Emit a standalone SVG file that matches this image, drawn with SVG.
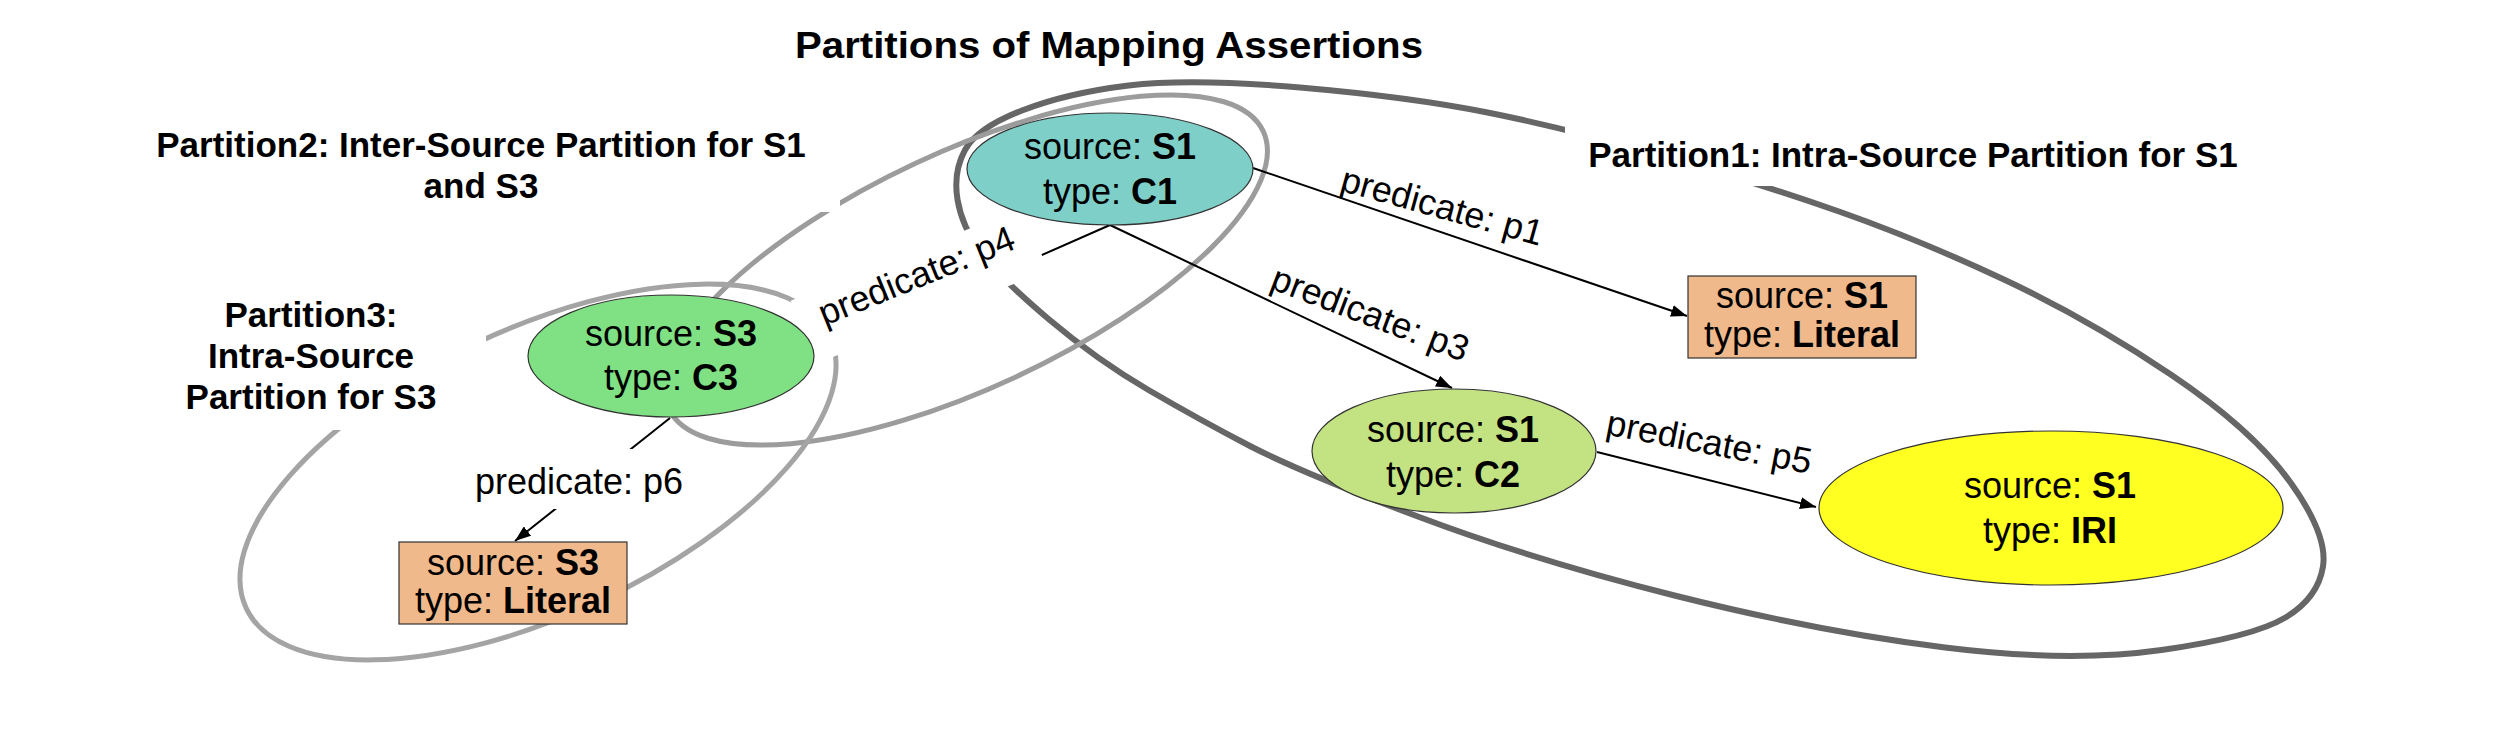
<svg xmlns="http://www.w3.org/2000/svg" width="2500" height="734" viewBox="0 0 2500 734">
<defs>
<style>
text{font-family:"Liberation Sans",Arial,sans-serif;fill:#000}
.nt{font-size:36px;text-anchor:middle}
.b{font-weight:bold}
.lab{font-size:35px;font-weight:bold;text-anchor:middle}
.el{font-size:36px;text-anchor:middle}
.part{fill:none}
.p1{stroke:#666;stroke-width:6}
.p2{stroke:#9c9c9c;stroke-width:5}
.p3{stroke:#a4a4a4;stroke-width:5}
.edge{stroke:#000;stroke-width:2;fill:none}
.bg{fill:#fff;stroke:none}
.node{stroke:#333;stroke-width:1.2}
</style>
<marker id="arr" viewBox="0 0 16 12" refX="16" refY="6" markerWidth="16" markerHeight="12" markerUnits="userSpaceOnUse" orient="auto">
<path d="M0,0 L16,6 L0,12 z" fill="#000"/>
</marker>
</defs>
<rect width="2500" height="734" fill="#fff"/>

<text x="1109" y="58" class="b" font-size="37" text-anchor="middle" textLength="628" lengthAdjust="spacingAndGlyphs">Partitions of Mapping Assertions</text>

<g id="partitions">
<path id="partition1" class="part p1" d="M 965,150 Q 977,128 1022,110.5 Q 1067,93 1128.5,85.5 Q 1190,78 1300,87.5 Q 1410,97 1487.5,112.5 Q 1565,128 1661.5,155.5 Q 1758,183 1839,211.5 Q 1920,240 2005,280 Q 2090,320 2171.5,375 Q 2253,430 2290.5,482.5 Q 2328,535 2323,566.5 Q 2318,598 2285.5,617.5 Q 2253,637 2161.5,650 Q 2070,663 1945,647.5 Q 1820,632 1676.5,596 Q 1533,560 1416.5,516 Q 1300,472 1250,446 Q 1200,420 1148.5,390 Q 1097,360 1048.5,319 Q 1000,278 981,252.5 Q 962,227 957.5,199.5 Q 953,172 965,150 Z"/>
<ellipse id="partition2" class="part p2" cx="0" cy="0" rx="328" ry="118" transform="translate(966,270) rotate(-25)"/>
<ellipse id="partition3" class="part p3" cx="0" cy="0" rx="322" ry="143" transform="translate(538,472) rotate(-25)"/>
</g>

<g id="partition-labels">
<rect class="bg" x="1565" y="122" width="690" height="64"/>
<text class="lab" x="1913" y="167">Partition1: Intra-Source Partition for S1</text>
<rect class="bg" x="148" y="118" width="692" height="94"/>
<text class="lab" x="481" y="157">Partition2: Inter-Source Partition for S1</text>
<text class="lab" x="481" y="198">and S3</text>
<rect class="bg" x="180" y="292" width="306" height="138"/>
<text class="lab" x="311" y="327">Partition3:</text>
<text class="lab" x="311" y="368">Intra-Source</text>
<text class="lab" x="311" y="409">Partition for S3</text>
</g>

<g id="connectors">
<line id="e-p1" class="edge" x1="1253" y1="168" x2="1687" y2="316" marker-end="url(#arr)"/>
<line id="e-p3" class="edge" x1="1110" y1="225" x2="1452" y2="388" marker-end="url(#arr)"/>
<line id="e-p5" class="edge" x1="1597" y1="452" x2="1816" y2="507" marker-end="url(#arr)"/>
<line id="e-p4" class="edge" x1="1110" y1="225" x2="815" y2="355"/>
<line id="e-p6" class="edge" x1="670" y1="418" x2="515" y2="541" marker-end="url(#arr)"/>
<text class="el" transform="translate(1439,218) rotate(15.5)">predicate: p1</text>
<text class="el" transform="translate(1366,325) rotate(20.8)">predicate: p3</text>
<text class="el" transform="translate(1707,454) rotate(11)">predicate: p5</text>
<g transform="translate(921,287) rotate(-22)">
<rect class="bg" x="-126" y="-36" width="250" height="68"/>
<text class="el" x="0" y="0">predicate: p4</text>
</g>
<rect class="bg" x="462" y="449" width="233" height="60"/>
<text class="el" x="579" y="494">predicate: p6</text>
</g>

<g id="node-c1">
<ellipse class="node" cx="1110" cy="169" rx="143" ry="56" fill="#7fcfc9"/>
<text class="nt" x="1110" y="159">source: <tspan class="b">S1</tspan></text>
<text class="nt" x="1110" y="204">type: <tspan class="b">C1</tspan></text>
</g>
<g id="node-c3">
<ellipse class="node" cx="671" cy="356" rx="143" ry="61" fill="#80e184"/>
<text class="nt" x="671" y="346">source: <tspan class="b">S3</tspan></text>
<text class="nt" x="671" y="390">type: <tspan class="b">C3</tspan></text>
</g>
<g id="node-c2">
<ellipse class="node" cx="1454" cy="451" rx="142" ry="62" fill="#c3e382"/>
<text class="nt" x="1453" y="442">source: <tspan class="b">S1</tspan></text>
<text class="nt" x="1453" y="487">type: <tspan class="b">C2</tspan></text>
</g>
<g id="node-iri">
<ellipse class="node" cx="2051" cy="508" rx="232" ry="77" fill="#ffff22"/>
<text class="nt" x="2050" y="498">source: <tspan class="b">S1</tspan></text>
<text class="nt" x="2050" y="543">type: <tspan class="b">IRI</tspan></text>
</g>
<g id="node-lit1">
<rect class="node" x="1688" y="276" width="228" height="82" fill="#f0b98b" stroke="#5a4a40"/>
<text class="nt" x="1802" y="308">source: <tspan class="b">S1</tspan></text>
<text class="nt" x="1802" y="347">type: <tspan class="b">Literal</tspan></text>
</g>
<g id="node-lit3">
<rect class="node" x="399" y="542" width="228" height="82" fill="#f0b98b" stroke="#5a4a40"/>
<text class="nt" x="513" y="575">source: <tspan class="b">S3</tspan></text>
<text class="nt" x="513" y="613">type: <tspan class="b">Literal</tspan></text>
</g>
</svg>
